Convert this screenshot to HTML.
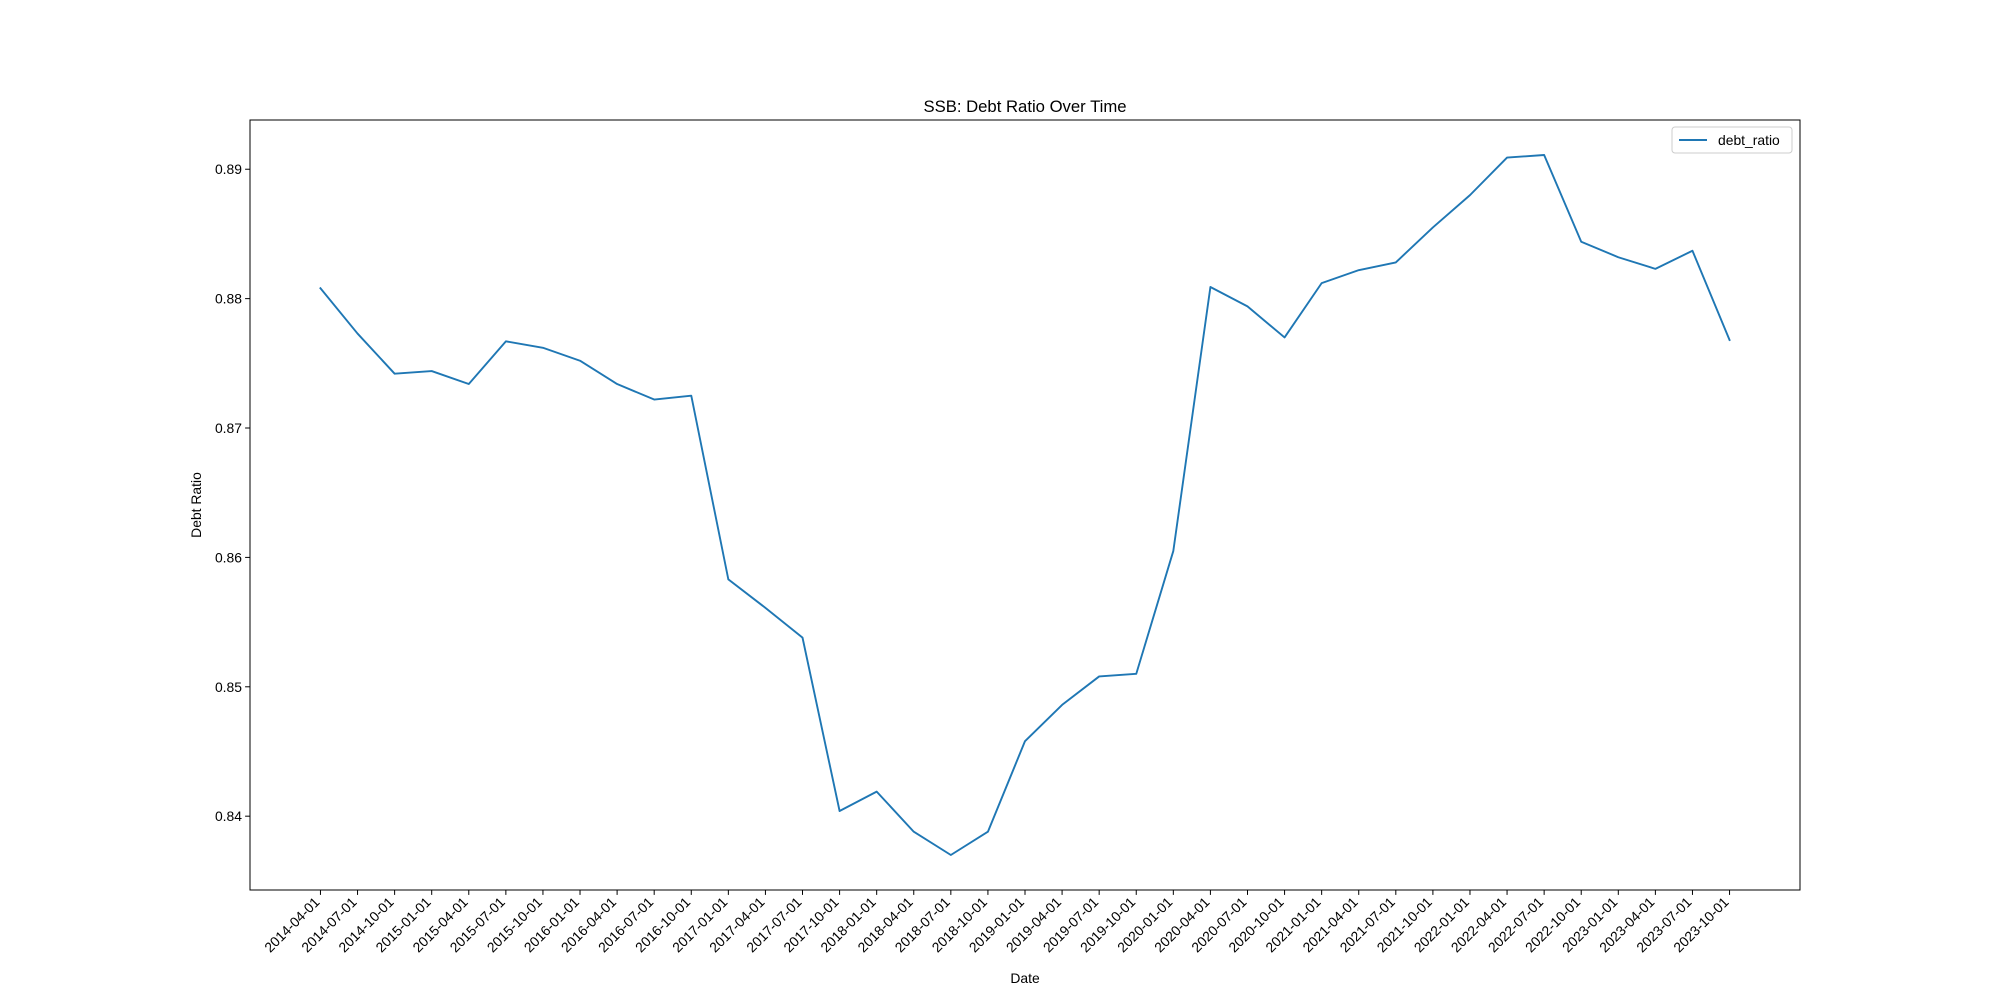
<!DOCTYPE html>
<html><head><meta charset="utf-8"><style>
html,body{margin:0;padding:0;background:#fff;}
svg{display:block;font-family:"Liberation Sans","DejaVu Sans",sans-serif;}
</style></head><body>
<svg id="chart" width="2000" height="1000" viewBox="0 0 2000 1000">
<rect width="2000" height="1000" fill="#fff"/>
<text x="1025" y="112" font-size="16.7" text-anchor="middle">SSB: Debt Ratio Over Time</text>
<g id="plot"></g>
<text x="1025" y="983" font-size="13.9" text-anchor="middle">Date</text>
<text x="0" y="0" font-size="13.9" text-anchor="middle" transform="translate(201,505) rotate(-90)">Debt Ratio</text>
</svg>
<script>
const categories=["2014-04-01","2014-07-01","2014-10-01","2015-01-01","2015-04-01","2015-07-01","2015-10-01","2016-01-01","2016-04-01","2016-07-01","2016-10-01","2017-01-01","2017-04-01","2017-07-01","2017-10-01","2018-01-01","2018-04-01","2018-07-01","2018-10-01","2019-01-01","2019-04-01","2019-07-01","2019-10-01","2020-01-01","2020-04-01","2020-07-01","2020-10-01","2021-01-01","2021-04-01","2021-07-01","2021-10-01","2022-01-01","2022-04-01","2022-07-01","2022-10-01","2023-01-01","2023-04-01","2023-07-01","2023-10-01"];
const debtRatio=[0.8808,0.8773,0.8742,0.8744,0.8734,0.8767,0.8762,0.8752,0.8734,0.8722,0.8725,0.8583,0.8561,0.8538,0.8404,0.8419,0.8388,0.8370,0.8388,0.8458,0.8486,0.8508,0.8510,0.8605,0.8809,0.8794,0.8770,0.8812,0.8822,0.8828,0.8855,0.8880,0.8909,0.8911,0.8844,0.8832,0.8823,0.8837,0.8768];
const yTicks=[0.84,0.85,0.86,0.87,0.88,0.89];
const yTickLabels=["0.84","0.85","0.86","0.87","0.88","0.89"];

const L=250,R=1800,T=120,B=890;
const NS="http://www.w3.org/2000/svg";
const n=categories.length;
const xPad=(n-1)*0.05;
const x=i=>L+(i+xPad)/((n-1)+2*xPad)*(R-L);
const mn=Math.min(...debtRatio),mx=Math.max(...debtRatio),yp=(mx-mn)*0.05;
const y=v=>B-(v-(mn-yp))/((mx-mn)+2*yp)*(B-T);
const g=document.getElementById('plot');
function mk(t,a){const e=document.createElementNS(NS,t);for(const k in a)e.setAttribute(k,a[k]);g.appendChild(e);return e;}

const d=debtRatio.map((v,i)=>(i?'L':'M')+x(i).toFixed(2)+','+y(v).toFixed(2)).join(' ');
const line=mk('path',{d:d,fill:'none',stroke:'#1f77b4','stroke-width':1.9,'stroke-linejoin':'round','stroke-linecap':'square'});



const fr=mk('rect',{x:L,y:T,width:R-L,height:B-T,fill:'none',stroke:'#000','stroke-width':1});



yTicks.forEach((v,i)=>{
  const yy=y(v);
  const tk=mk('line',{x1:L-4.9,x2:L,y1:yy,y2:yy,stroke:'#000','stroke-width':1});
  
  
  const tx=mk('text',{x:L-8,y:yy+5,'font-size':13.9,'text-anchor':'end'});
  tx.textContent=yTickLabels[i];
  
  
});
categories.forEach((c,i)=>{
  const xx=x(i);
  const tk=mk('line',{x1:xx,x2:xx,y1:B,y2:B+4.9,stroke:'#000','stroke-width':1});
  
  
  const tx=mk('text',{x:0,y:0,'font-size':13.9,'text-anchor':'end',transform:`translate(${xx},${B+13}) rotate(-45)`});
  tx.textContent=c;
  
  
});
const lg=mk('rect',{x:1672,y:127,width:120,height:26,fill:'#fff',stroke:'#ccc','stroke-width':1,rx:3});


const ll=mk('line',{x1:1679,x2:1707,y1:140,y2:140,stroke:'#1f77b4','stroke-width':1.9});


const lt=mk('text',{x:1718,y:145,'font-size':13.9});
lt.textContent='debt_ratio';


</script>
</body></html>
